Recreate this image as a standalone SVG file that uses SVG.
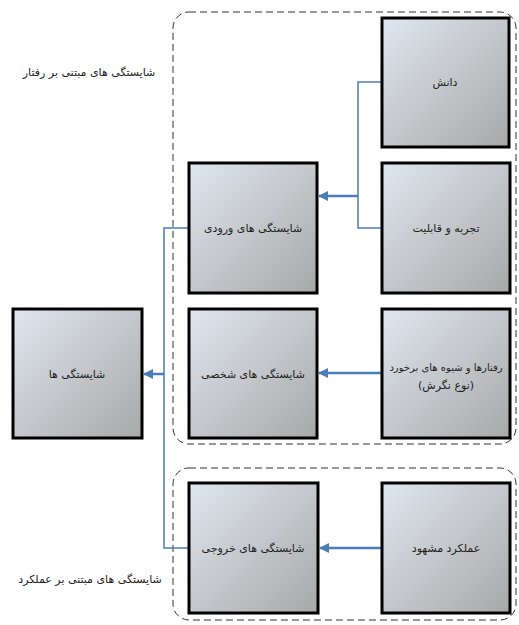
<svg xmlns="http://www.w3.org/2000/svg" width="519" height="625" viewBox="0 0 519 625">
<defs>
<linearGradient id="g" x1="0" y1="0" x2="1" y2="1">
<stop offset="0" stop-color="#dfe7f1"/>
<stop offset="0.5" stop-color="#c4c7cb"/>
<stop offset="1" stop-color="#a8a8a8"/>
</linearGradient>
<marker id="ah" viewBox="0 0 10 10" refX="9" refY="5" markerWidth="4" markerHeight="4" orient="auto" markerUnits="strokeWidth">
<path d="M0,0 L10,5 L0,10 z" fill="#4a7ebb"/>
</marker>
<style>
.box{fill:url(#g);stroke:#000;stroke-width:3}
.t{font-family:"DejaVu Sans",sans-serif;font-size:11px;fill:#222;text-anchor:middle}
.s{font-size:10px}
.grp{fill:none;stroke:#333;stroke-width:1;stroke-dasharray:7,4}
.ln{fill:none;stroke:#4a7ebb;stroke-width:1.5}
.ar{fill:none;stroke:#4a7ebb;stroke-width:2.5;marker-end:url(#ah)}
</style>
</defs>
<rect width="519" height="625" fill="#fff"/>
<g id="groups">
<rect class="grp" x="173" y="12" width="343" height="432" rx="16"/>
<rect class="grp" x="173" y="468" width="343" height="152" rx="16"/>
<text class="t" x="89" y="76" direction="rtl">شایستگی های مبتنی بر رفتار</text>
<text class="t" x="90" y="583" direction="rtl">شایستگی های مبتنی بر عملکرد</text>
</g>
<g id="connectors">
<path class="ln" d="M381,82 H358 V228 H382"/>
<path class="ar" d="M358,196 H319"/>
<path class="ln" d="M189,228 H164 V548 H188"/>
<path class="ar" d="M164,374 H144"/>
<path class="ar" d="M381,373 H319"/>
<path class="ar" d="M381,548 H320"/>
</g>
<g id="n-danesh"><rect class="box" x="382" y="18" width="127" height="129"/><text class="t" x="445" y="86" direction="rtl">دانش</text></g>
<g id="n-tajrobe"><rect class="box" x="382" y="163" width="128" height="130"/><text class="t" x="446" y="232" direction="rtl">تجربه و قابلیت</text></g>
<g id="n-vorudi"><rect class="box" x="189" y="163" width="128" height="130"/><text class="t" x="253" y="232" direction="rtl">شایستگی های ورودی</text></g>
<g id="n-raftar"><rect class="box" x="382" y="309" width="128" height="129"/><text class="t s" x="446" y="371" direction="rtl">رفتارها و شیوه های برخورد</text><text class="t" x="446" y="389" direction="rtl">(نوع نگرش)</text></g>
<g id="n-shakhsi"><rect class="box" x="189" y="309" width="128" height="129"/><text class="t" x="253" y="378" direction="rtl">شایستگی های شخصی</text></g>
<g id="n-shayestegi"><rect class="box" x="13" y="309" width="129" height="129"/><text class="t" x="77" y="378" direction="rtl">شایستگی ها</text></g>
<g id="n-khoruji"><rect class="box" x="189" y="483" width="129" height="130"/><text class="t" x="253" y="552" direction="rtl">شایستگی های خروجی</text></g>
<g id="n-amalkard"><rect class="box" x="382" y="483" width="128" height="130"/><text class="t" x="446" y="552" direction="rtl">عملکرد مشهود</text></g>
</svg>
